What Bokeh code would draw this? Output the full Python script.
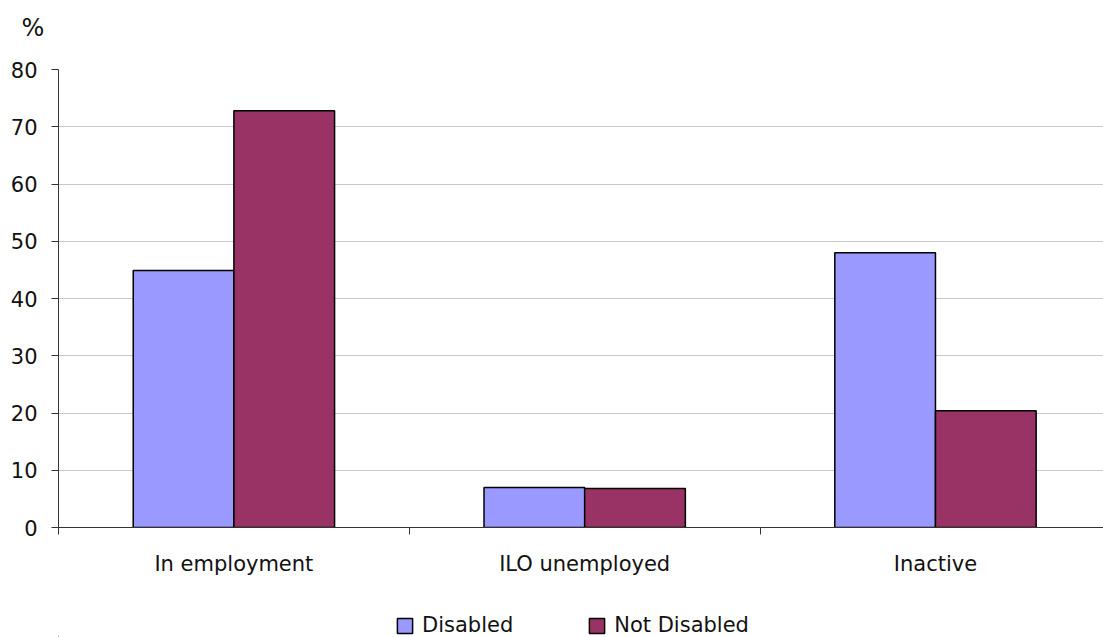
from bokeh.plotting import figure
from bokeh.layouts import column
from bokeh.models import Range1d, FixedTicker, Legend, LegendItem, ColumnDataSource
from bokeh.transform import dodge
from bokeh.embed import file_html
from bokeh.resources import INLINE

categories = ["In employment", "ILO unemployed", "Inactive"]
disabled = [44.9, 7.0, 48.0]
not_disabled = [72.8, 6.8, 20.4]
series_names = ["Disabled", "Not Disabled"]
series_colors = ["#9999FF", "#993366"]
y_ticks = [0, 10, 20, 30, 40, 50, 60, 70, 80]

FONT = "DejaVu Sans"
TXT = "#111111"
x_pos = list(range(1, len(categories) + 1))
src = ColumnDataSource(dict(x=x_pos, cat=categories, disabled=disabled, not_disabled=not_disabled))

p = figure(width=1103, height=611, output_backend="svg", toolbar_location=None,
           x_range=Range1d(0.5, 0.5 + 2.979), y_range=Range1d(0, 80),
           min_border_left=58, min_border_right=0, min_border_top=69, min_border_bottom=84)
p.outline_line_color = None
p.background_fill_color = "white"

r1 = p.vbar(x=dodge("x", -0.1435, range=p.x_range), top="disabled", width=0.287, source=src,
            fill_color=series_colors[0], line_color="black", line_width=1.5)
r2 = p.vbar(x=dodge("x", 0.1435, range=p.x_range), top="not_disabled", width=0.287, source=src,
            fill_color=series_colors[1], line_color="black", line_width=1.5)

# x axis
xa = p.xaxis[0]
xa.ticker = FixedTicker(ticks=x_pos, minor_ticks=[x - 0.5 for x in x_pos] + [x_pos[-1] + 0.5])
xa.major_label_overrides = {x: c for x, c in zip(x_pos, categories)}
xa.major_tick_in = 0
xa.major_tick_out = 0
xa.major_tick_line_color = None
xa.minor_tick_in = 0
xa.minor_tick_out = 7
xa.minor_tick_line_color = "#333333"
xa.axis_line_color = "#333333"
xa.major_label_text_font = FONT
xa.major_label_text_font_size = "21px"
xa.major_label_text_color = TXT
xa.major_label_standoff = 17

ya = p.yaxis[0]
ya.ticker = FixedTicker(ticks=y_ticks, minor_ticks=[])
ya.major_tick_in = 0
ya.major_tick_out = 7
ya.major_tick_line_color = "#333333"
ya.axis_line_color = "#333333"
ya.major_label_text_font = FONT
ya.major_label_text_font_size = "21px"
ya.major_label_text_color = TXT
ya.major_label_standoff = 14

p.xgrid.visible = False
p.ygrid.grid_line_color = "#c8c8c8"
p.ygrid.grid_line_width = 1

# "%" unit label; the blank second line lifts it up inside the top border
p.title.text = "%\n "
p.title.align = "left"
p.title.vertical_align = "bottom"
p.title.offset = -37
p.title.standoff = 0
p.title.text_font = FONT
p.title.text_font_size = "24px"
p.title.text_font_style = "normal"
p.title.text_color = TXT

# legend strip below the chart (its bars sit outside its visible ranges)
lg = figure(width=1103, height=26, output_backend="svg", toolbar_location=None,
            x_range=Range1d(5, 6), y_range=Range1d(100, 101), min_border=0)
lg.axis.visible = False
lg.grid.visible = False
lg.outline_line_color = None
d1 = lg.vbar(x="x", top="disabled", width=0.1, source=src,
             fill_color=series_colors[0], line_color="black", line_width=1.5)
d2 = lg.vbar(x="x", top="not_disabled", width=0.1, source=src,
             fill_color=series_colors[1], line_color="black", line_width=1.5)
legend = Legend(items=[LegendItem(label=series_names[0], renderers=[d1]),
                       LegendItem(label=series_names[1], renderers=[d2])],
                orientation="horizontal", location=(337, 0),
                border_line_color=None, background_fill_alpha=0, padding=0, margin=0,
                spacing=74, glyph_width=19, glyph_height=19, label_standoff=8,
                label_text_font=FONT, label_text_font_size="21px", label_text_color=TXT)
lg.add_layout(legend, "center")

layout = column(p, lg, spacing=0)
open("out.html", "w").write(file_html(layout, INLINE))
